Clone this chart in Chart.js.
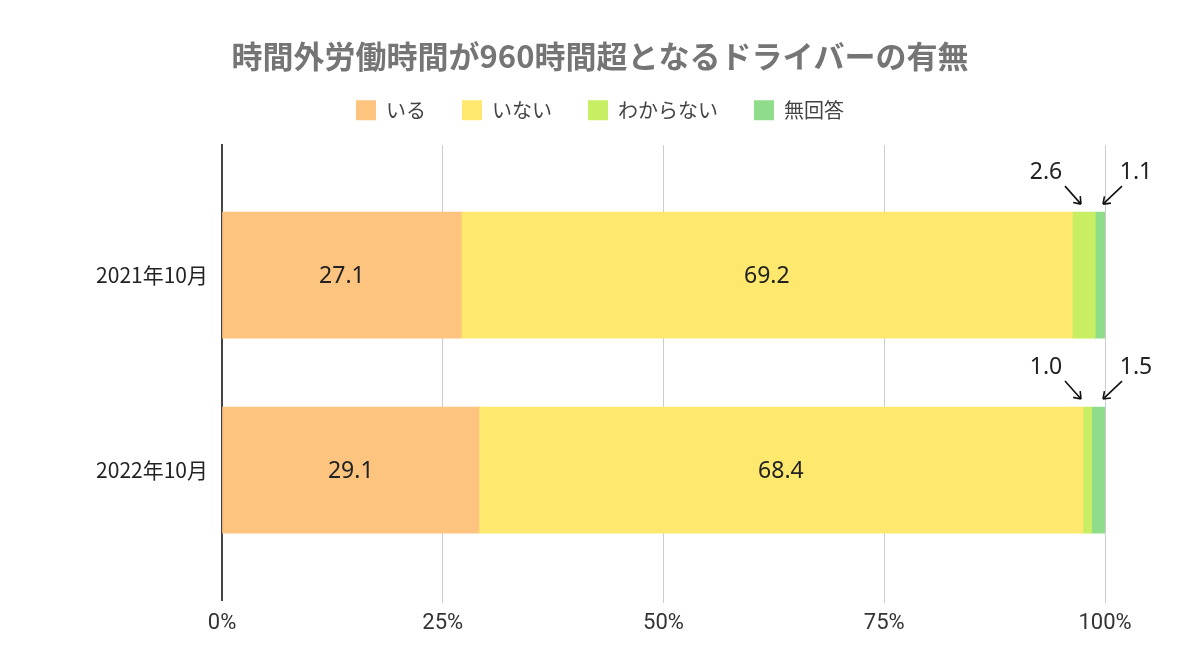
<!DOCTYPE html>
<html>
<head>
<meta charset="utf-8">
<script src="https://cdn.jsdelivr.net/npm/chart.js@4"></script>
<style>
  html, body { margin: 0; padding: 0; background: #fff; }
  #wrap { width: 1200px; height: 672px; }
</style>
</head>
<body>
<div id="wrap"><canvas id="c" width="1200" height="672"></canvas></div>
<script>
const titleText = '時間外労働時間が960時間超となるドライバーの有無';
const categories = ['2021年10月', '2022年10月'];
const seriesNames = ['いる', 'いない', 'わからない', '無回答'];
const iru = [27.1, 29.1];
const inai = [69.2, 68.4];
const wakaranai = [2.6, 1.0];
const mukaito = [1.1, 1.5];
const xTicks = [0, 25, 50, 75, 100];

const colors = ['#FDC47F', '#FEE96E', '#C8EE63', '#8FDD8B'];
const seriesValues = [iru, inai, wakaranai, mukaito];

const datasets = seriesValues.map((vals, s) => ({
  label: seriesNames[s],
  data: vals.map((v, i) => ({ x: v, y: i })),
  backgroundColor: colors[s],
  borderWidth: 0,
  barThickness: 126
}));

const labelPlugin = {
  id: 'labels',
  afterDatasetsDraw(chart) {
    const ctx = chart.ctx;
    ctx.save();
    ctx.font = "23px 'Noto Sans', 'Open Sans', sans-serif";
    ctx.fillStyle = '#222';
    ctx.textAlign = 'center';
    ctx.textBaseline = 'middle';
    [0, 1].forEach(d => {
      chart.getDatasetMeta(d).data.forEach((el, i) => {
        const v = seriesValues[d][i];
        const cx = (el.x + el.base) / 2;
        ctx.fillText(v.toFixed(1), cx, el.y + 1);
      });
    });
    const lastMeta = chart.getDatasetMeta(3);
    lastMeta.data.forEach((el, i) => {
      const xEnd = el.x;
      const top = el.y - el.height / 2;
      const arrow = (x1, y1, x2, y2) => {
        ctx.beginPath();
        ctx.strokeStyle = '#111';
        ctx.lineWidth = 1.6;
        ctx.moveTo(x1, y1);
        ctx.lineTo(x2, y2);
        const ang = Math.atan2(y2 - y1, x2 - x1);
        const L = 8;
        ctx.moveTo(x2, y2);
        ctx.lineTo(x2 - L * Math.cos(ang - Math.PI / 5), y2 - L * Math.sin(ang - Math.PI / 5));
        ctx.moveTo(x2, y2);
        ctx.lineTo(x2 - L * Math.cos(ang + Math.PI / 5), y2 - L * Math.sin(ang + Math.PI / 5));
        ctx.stroke();
      };
      ctx.fillText(wakaranai[i].toFixed(1), xEnd - 59, top - 40);
      arrow(xEnd - 40, top - 26, xEnd - 24, top - 8);
      ctx.fillText(mukaito[i].toFixed(1), xEnd + 31, top - 40);
      arrow(xEnd + 17, top - 26, xEnd - 2, top - 8);
    });
    ctx.restore();
  }
};

new Chart(document.getElementById('c'), {
  type: 'bar',
  data: { datasets },
  options: {
    indexAxis: 'y',
    responsive: false,
    animation: false,
    layout: { padding: 0 },
    plugins: {
      title: {
        display: true,
        text: titleText,
        color: '#757575',
        font: { family: "'Noto Sans CJK JP', sans-serif", size: 31, weight: 'bold', lineHeight: 1.2 },
        padding: { top: 38, bottom: -11 }
      },
      legend: {
        display: true,
        position: 'top',
        labels: {
          color: '#444',
          boxWidth: 20,
          boxHeight: 20,
          padding: 36,
          font: { family: "'Noto Sans CJK JP', sans-serif", size: 20 }
        }
      },
      subtitle: {
        display: true,
        text: '',
        weight: 500,
        font: { size: 10, lineHeight: 1 },
        padding: { top: 5, bottom: 0 }
      },
      tooltip: { enabled: false }
    },
    scales: {
      x: {
        type: 'linear',
        stacked: true,
        min: 0,
        max: 100,
        afterBuildTicks(scale) { scale.ticks = xTicks.map(v => ({ value: v })); },
        afterFit(scale) { scale.height = 72; },
        grid: {
          color: ctx => (ctx.tick && ctx.tick.value === 0) ? 'rgba(0,0,0,0)' : '#cccccc',
          lineWidth: 1,
          drawTicks: true,
          tickLength: 3
        },
        border: { display: false },
        ticks: {
          color: '#333',
          padding: 7,
          font: { family: "'Roboto', sans-serif", size: 22 },
          callback: v => v + '%'
        }
      },
      y: {
        type: 'linear',
        stacked: true,
        reverse: true,
        offset: false,
        min: -2 / 3,
        max: 5 / 3,
        afterBuildTicks(scale) { scale.ticks = categories.map((c, i) => ({ value: i })); },
        afterFit(scale) { scale.width = 222; },
        grid: { display: false, drawTicks: false, offset: false },
        border: { display: true, color: '#444', width: 2 },
        ticks: {
          color: '#222',
          padding: 14,
          font: { family: "'Noto Sans CJK JP', sans-serif", size: 21 },
          callback: v => categories[v] !== undefined ? categories[v] : ''
        }
      },
      rightSpace: {
        type: 'linear',
        position: 'right',
        display: true,
        afterFit(scale) { scale.width = 95; },
        grid: { display: false, drawTicks: false },
        border: { display: false },
        ticks: { display: false }
      }
    }
  },
  plugins: [labelPlugin]
});
</script>
</body>
</html>
